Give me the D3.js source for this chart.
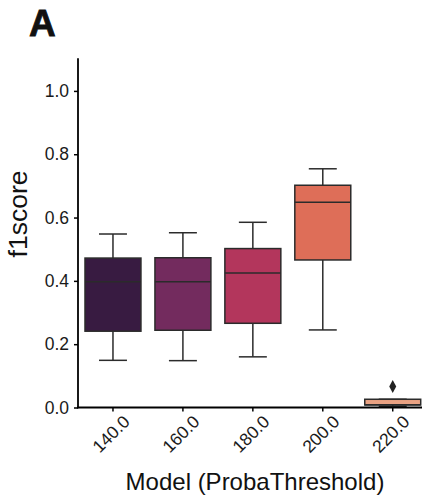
<!DOCTYPE html>
<html>
<head>
<meta charset="utf-8">
<script src="https://cdn.jsdelivr.net/npm/d3@7"></script>
<style>
  html, body { margin: 0; padding: 0; background: #fff; }
  svg { display: block; font-family: "Liberation Sans", Arial, Helvetica, sans-serif; }
</style>
</head>
<body>
<svg id="chart" width="427" height="504"></svg>
<script>
// ---- data ----
const categories = ["140.0", "160.0", "180.0", "200.0", "220.0"];
const whiskerLow  = [0.149, 0.148, 0.160, 0.245, 0.004];
const q1          = [0.241, 0.244, 0.266, 0.466, 0.008];
const median      = [0.397, 0.397, 0.425, 0.648, 0.009];
const q3          = [0.472, 0.473, 0.502, 0.702, 0.026];
const whiskerHigh = [0.548, 0.552, 0.585, 0.754, 0.026];
const outliers    = [[], [], [], [], [0.066]];
const colors      = ["#381b41", "#732b5e", "#b3365c", "#de6e58", "#e9a283"];
const yTicks      = [0.0, 0.2, 0.4, 0.6, 0.8, 1.0];

const svg = d3.select("#chart");
const mLeft = 78, mRight = 427.7, mTop = 58.3, mBottom = 407.5;

const x = d3.scaleBand().domain(categories).range([mLeft, mRight]).paddingInner(0.2).paddingOuter(0.1);
const y = d3.scaleLinear().domain([0, 1.103]).range([mBottom, mTop]);

const edge = "#2b2b2b";
const boxW = x.bandwidth();

// boxes
const g = svg.append("g");
categories.forEach((c, i) => {
  const cx = x(c) + boxW / 2;
  g.append("line").attr("x1", cx).attr("x2", cx).attr("y1", y(q3[i])).attr("y2", y(whiskerHigh[i]))
    .attr("stroke", edge).attr("stroke-width", 1.5);
  g.append("line").attr("x1", cx).attr("x2", cx).attr("y1", y(q1[i])).attr("y2", y(whiskerLow[i]))
    .attr("stroke", edge).attr("stroke-width", 1.5);
  [whiskerHigh[i], whiskerLow[i]].forEach(v => {
    g.append("line").attr("x1", cx - boxW / 4).attr("x2", cx + boxW / 4)
      .attr("y1", y(v)).attr("y2", y(v)).attr("stroke", edge).attr("stroke-width", 1.5);
  });
  g.append("rect").attr("x", x(c)).attr("width", boxW)
    .attr("y", y(q3[i])).attr("height", Math.max(0.5, y(q1[i]) - y(q3[i])))
    .attr("fill", colors[i]).attr("stroke", edge).attr("stroke-width", 1.5);
  g.append("line").attr("x1", x(c)).attr("x2", x(c) + boxW)
    .attr("y1", y(median[i])).attr("y2", y(median[i])).attr("stroke", edge).attr("stroke-width", 1.5);
  outliers[i].forEach(v => {
    const py = y(v);
    g.append("path")
      .attr("d", `M${cx},${py - 6.5}L${cx + 3.5},${py}L${cx},${py + 6.5}L${cx - 3.5},${py}Z`)
      .attr("fill", "#222");
  });
});

// y axis
const yAxis = d3.axisLeft(y).tickValues(yTicks).tickFormat(d3.format(".1f")).tickSize(4).tickPadding(5);
const yg = svg.append("g").attr("transform", `translate(${mLeft},0)`).call(yAxis)
  .attr("font-size", 17.5).attr("font-family", "Liberation Sans, Arial, sans-serif");
yg.select(".domain").remove();
yg.selectAll(".tick line").attr("stroke", "#000").attr("stroke-width", 1.5);
yg.selectAll(".tick text").attr("fill", "#1a1a1a");
svg.append("line").attr("x1", mLeft).attr("x2", mLeft).attr("y1", mTop).attr("y2", mBottom + 0.75)
  .attr("stroke", "#000").attr("stroke-width", 1.8);

// x axis
const xAxis = d3.axisBottom(x).tickSize(4).tickFormat(() => "");
const xg = svg.append("g").attr("transform", `translate(0,${mBottom})`).call(xAxis);
xg.select(".domain").remove();
xg.selectAll(".tick line").attr("stroke", "#000").attr("stroke-width", 1.5);
svg.append("line").attr("x1", mLeft - 0.9).attr("x2", 422).attr("y1", mBottom).attr("y2", mBottom)
  .attr("stroke", "#000").attr("stroke-width", 1.8);

// rotated x tick labels
svg.append("g").selectAll("text").data(categories).join("text")
  .attr("transform", d => `translate(${x(d) + boxW / 2 - 2},${434}) rotate(-45)`)
  .attr("text-anchor", "middle").attr("dy", "0.35em")
  .attr("font-size", 17.5).attr("fill", "#1a1a1a")
  .text(d => d);

// axis titles
svg.append("text").attr("x", 255).attr("y", 490).attr("text-anchor", "middle")
  .attr("font-size", 24).attr("fill", "#111").text("Model (ProbaThreshold)");
svg.append("text").attr("transform", `translate(27,${214}) rotate(-90)`).attr("text-anchor", "middle")
  .attr("font-size", 26.5).attr("fill", "#111").text("f1score");

// panel label
svg.append("text").attr("x", 29).attr("y", 36).attr("font-size", 37).attr("font-weight", "bold")
  .attr("fill", "#111").attr("stroke", "#111").attr("stroke-width", 0.8).text("A");
</script>
</body>
</html>
